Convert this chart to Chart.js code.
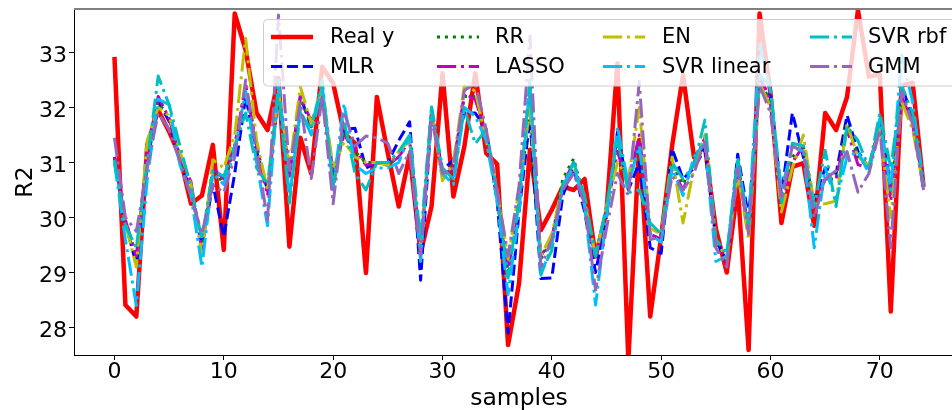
<!DOCTYPE html>
<html><head><meta charset="utf-8">
<script src="https://cdn.jsdelivr.net/npm/chart.js@4.4.0/dist/chart.umd.min.js"></script>
<style>html,body{margin:0;padding:0;background:#fff;overflow:hidden}canvas{display:block}</style>
</head><body>
<canvas id="c" width="952" height="410"></canvas>
<script>
const samples = [0,1,2,3,4,5,6,7,8,9,10,11,12,13,14,15,16,17,18,19,20,21,22,23,24,25,26,27,28,29,30,31,32,33,34,35,36,37,38,39,40,41,42,43,44,45,46,47,48,49,50,51,52,53,54,55,56,57,58,59,60,61,62,63,64,65,66,67,68,69,70,71,72,73,74];
const seriesNames = ['Real y','MLR','RR','LASSO','EN','SVR linear','SVR rbf','GMM'];
const xTicks = [0,10,20,30,40,50,60,70];
const yTicks = [28,29,30,31,32,33];
const xLabel = 'samples';
const yLabel = 'R2';

const realY = [32.92,28.41,28.20,31.32,31.95,31.56,31.10,30.25,30.40,31.32,
29.41,33.71,33.04,31.90,31.59,32.53,29.47,31.45,30.80,32.74,
32.44,31.53,31.35,28.99,32.19,31.17,30.20,31.15,29.35,30.20,
32.62,30.38,31.29,32.62,31.17,30.97,27.68,28.80,31.23,29.77,
30.14,30.56,30.50,30.70,29.29,30.10,32.80,27.40,31.41,28.20,
29.65,31.30,32.59,31.10,31.30,29.80,29.00,30.56,27.59,33.71,
32.26,29.90,30.92,30.99,29.85,31.90,31.59,32.19,33.77,32.56,
32.60,28.29,32.40,32.45,30.56];
const mlr = [31.1,29.9,29.15,31.0,32.1,31.75,31.0,30.5,29.5,30.6,
29.65,30.8,32.2,31.2,30.5,32.2,30.8,32.2,31.65,32.3,
30.7,31.6,31.62,30.9,31.0,31.0,31.4,31.74,28.86,31.9,
30.85,31.05,31.9,31.9,31.6,30.3,27.9,30.1,31.8,28.89,
28.9,30.4,30.9,30.1,29.0,30.0,31.55,30.5,31.0,29.45,
29.35,31.25,30.7,30.9,31.25,29.6,29.2,31.15,30.0,32.5,
32.2,30.4,31.9,31.1,30.33,30.9,30.8,31.86,31.2,30.9,
31.7,30.6,32.4,31.8,30.6];
const rr = [31.1,29.95,29.3,31.1,32.1,31.8,31.1,30.6,29.4,30.9,
30.6,31.3,32.4,31.3,30.5,32.3,30.8,32.15,31.7,32.25,
30.8,31.5,31.2,31.0,31.0,30.95,31.1,31.45,29.3,31.95,
30.7,30.95,32.2,32.2,31.5,30.4,29.0,30.3,32.0,29.25,
29.6,30.7,31.07,30.3,29.3,30.1,31.3,30.6,31.3,29.7,
29.6,31.0,30.6,31.0,31.4,29.5,29.2,31.0,29.8,32.5,
32.1,30.2,31.1,31.3,30.2,30.7,30.7,31.7,31.1,30.9,
31.7,30.4,32.2,31.7,30.6];
const lasso = [31.1,29.95,29.3,31.2,32.2,31.8,31.1,30.65,29.4,30.9,
30.7,31.3,32.4,31.3,30.4,32.3,30.75,32.2,31.75,32.2,
30.8,31.5,31.25,30.95,31.0,30.95,31.1,31.4,29.35,31.95,
30.75,30.9,32.25,32.15,31.5,30.4,29.0,30.3,32.2,29.3,
29.6,30.6,31.0,30.3,29.25,30.1,31.2,30.6,31.5,29.7,
29.6,30.9,30.5,31.0,31.45,29.5,29.2,30.9,29.75,32.6,
32.1,30.15,31.0,31.3,30.2,30.7,30.7,31.6,30.96,30.9,
31.7,30.3,32.2,31.7,30.6];
const en = [31.0,29.9,29.1,31.4,32.0,31.85,31.2,30.6,29.3,31.05,
30.9,31.5,33.26,31.4,30.5,32.3,30.9,32.38,31.7,32.35,
30.9,31.37,31.1,31.0,31.0,30.95,31.2,31.4,29.5,31.95,
30.67,31.0,32.4,32.3,31.4,30.5,29.25,30.5,32.0,29.3,
29.7,30.6,30.9,30.3,29.3,30.2,31.0,30.7,32.0,29.8,
29.7,31.1,29.9,30.9,31.5,29.6,29.25,30.8,29.6,32.45,
32.0,30.1,30.9,31.5,30.25,30.25,30.3,31.7,31.1,30.95,
31.6,30.0,32.1,31.6,30.55];
const svrLinear = [31.0,29.6,28.4,30.7,32.15,32.05,30.95,30.4,29.1,30.8,
30.6,31.2,32.3,31.0,29.85,32.5,30.35,31.95,31.5,32.4,
30.55,32.07,30.95,30.8,30.9,30.9,31.0,31.5,29.2,32.0,
30.8,30.6,32.0,31.84,31.4,30.3,28.6,30.1,32.45,28.95,
29.5,30.55,30.95,30.2,28.41,30.0,31.65,30.6,31.3,29.7,
29.55,30.9,30.4,31.1,31.35,29.2,29.3,31.0,29.9,33.17,
32.3,30.5,31.3,31.2,29.45,30.9,30.3,31.1,31.2,30.8,
31.8,30.5,32.95,32.1,30.6];
const svrRbf = [31.05,29.85,29.45,31.0,32.57,32.05,31.3,30.55,29.6,30.85,
30.75,31.3,31.9,30.9,30.6,32.3,30.26,31.9,31.6,32.5,
30.5,31.75,30.8,30.5,31.0,31.0,31.2,31.5,29.6,32.01,
30.9,30.7,31.98,31.34,31.6,30.45,28.9,30.3,32.5,29.0,
29.4,30.6,31.0,30.4,29.3,30.2,31.43,30.45,30.5,29.9,
29.7,31.0,30.7,30.95,31.77,29.6,29.35,31.1,29.77,32.57,
32.4,30.27,31.35,31.3,30.2,31.22,30.2,31.66,31.4,30.9,
31.9,30.9,32.4,31.9,30.55];
const gmm = [31.45,30.0,29.75,30.9,31.9,31.6,31.0,30.4,29.7,30.6,
30.45,31.1,32.5,31.2,29.95,33.68,30.85,32.1,30.71,32.2,
30.25,31.92,31.3,31.48,31.45,31.35,30.8,31.2,29.3,31.8,
30.8,30.9,32.31,32.44,31.6,30.5,29.3,30.57,33.3,29.1,
29.6,30.5,30.8,30.25,28.68,29.8,30.8,30.4,32.47,29.6,
29.65,30.75,30.5,30.8,31.4,29.45,29.1,30.9,29.7,32.4,
31.9,30.33,31.3,31.2,30.0,30.7,30.85,31.2,30.46,30.8,
31.6,29.45,32.3,31.7,30.5];

const seriesValues = [realY, mlr, rr, lasso, en, svrLinear, svrRbf, gmm];
const styles = [
  {color:'#ff0000', width:4.5, dash:[]},
  {color:'#0000ff', width:3, dash:[11.1,4.8]},
  {color:'#008000', width:3, dash:[3,4.95]},
  {color:'#bf00bf', width:3, dash:[19.2,4.8,3,4.8]},
  {color:'#bfbf00', width:3, dash:[19.2,4.8,3,4.8]},
  {color:'#00bfff', width:3, dash:[19.2,4.8,3,4.8]},
  {color:'#00bfbf', width:3, dash:[19.2,4.8,3,4.8]},
  {color:'#9467bd', width:3, dash:[19.2,4.8,3,4.8]}
];

const FONT = '"DejaVu Sans", sans-serif';
Chart.defaults.font.family = FONT;

const datasets = seriesNames.map((name, i) => ({
  label: name,
  data: samples.map((s, j) => ({x: s, y: seriesValues[i][j]})),
  borderColor: styles[i].color,
  borderWidth: styles[i].width,
  borderDash: styles[i].dash,
  borderJoinStyle: 'round',
  borderCapStyle: 'butt',
  fill: false,
  pointRadius: 0,
  tension: 0,
  order: seriesNames.length - 1 - i
}));

const overlay = {
  id: 'overlay',
  afterDraw(chart) {
    const ctx = chart.ctx;
    const yScale = chart.scales.y;
    ctx.save();
    // y tick labels (matplotlib-like vertical centring)
    ctx.fillStyle = '#000';
    ctx.font = '22px ' + FONT;
    ctx.textAlign = 'right';
    ctx.textBaseline = 'alphabetic';
    yTicks.forEach(v => {
      ctx.fillText(String(v), 67, yScale.getPixelForValue(v) + 10);
    });
    ctx.restore();
  },
  afterDatasetsDraw(chart) {
    const ctx = chart.ctx;
    ctx.save();
    // top spine
    ctx.fillStyle = '#808080';
    ctx.fillRect(74, 8, 878, 2);
    // legend box
    const bx = 263.5, by = 19.5, bw = 700, bh = 66.5, r = 4;
    ctx.beginPath();
    ctx.moveTo(bx + r, by);
    ctx.lineTo(bx + bw - r, by);
    ctx.quadraticCurveTo(bx + bw, by, bx + bw, by + r);
    ctx.lineTo(bx + bw, by + bh - r);
    ctx.quadraticCurveTo(bx + bw, by + bh, bx + bw - r, by + bh);
    ctx.lineTo(bx + r, by + bh);
    ctx.quadraticCurveTo(bx, by + bh, bx, by + bh - r);
    ctx.lineTo(bx, by + r);
    ctx.quadraticCurveTo(bx, by, bx + r, by);
    ctx.closePath();
    ctx.fillStyle = 'rgba(255,255,255,0.8)';
    ctx.fill();
    ctx.strokeStyle = '#cccccc';
    ctx.lineWidth = 1;
    ctx.stroke();
    const handleX = [271, 437, 603, 810];
    const textX = [330, 495, 662, 868];
    const rowY = [37, 66.5];
    ctx.font = '21px ' + FONT;
    ctx.textBaseline = 'middle';
    ctx.textAlign = 'left';
    seriesNames.forEach((name, i) => {
      const col = Math.floor(i / 2), row = i % 2;
      const y = rowY[row];
      ctx.beginPath();
      ctx.setLineDash(styles[i].dash);
      ctx.lineDashOffset = 0;
      ctx.lineCap = 'butt';
      ctx.strokeStyle = styles[i].color;
      ctx.lineWidth = styles[i].width;
      ctx.moveTo(handleX[col], y);
      ctx.lineTo(handleX[col] + 42, y);
      ctx.stroke();
      ctx.setLineDash([]);
      ctx.fillStyle = '#000';
      ctx.fillText(name, textX[col], y + 1);
    });
    // axis titles
    ctx.fillStyle = '#000';
    ctx.font = '23.5px ' + FONT;
    ctx.textAlign = 'center';
    ctx.textBaseline = 'alphabetic';
    ctx.fillText(xLabel, 519, 405);
    ctx.translate(31.5, 182);
    ctx.rotate(-Math.PI / 2);
    ctx.fillText(yLabel, 0, 0);
    ctx.restore();
  }
};

new Chart(document.getElementById('c'), {
  type: 'line',
  data: { datasets },
  plugins: [overlay],
  options: {
    responsive: false,
    animation: false,
    devicePixelRatio: 1,
    layout: { padding: { top: 9, left: 0, right: 0, bottom: 0 } },
    plugins: { legend: { display: false }, tooltip: { enabled: false } },
    elements: { point: { radius: 0 }, line: { tension: 0 } },
    scales: {
      x: {
        type: 'linear',
        min: -3.7, max: 76.6,
        afterFit: s => { s.height = 55; s.paddingLeft = 0; s.paddingRight = 0; },
        afterBuildTicks: s => { s.ticks = xTicks.map(v => ({ value: v })); },
        ticks: { font: { size: 22, lineHeight: 1 }, color: '#000', padding: 1, maxRotation: 0, autoSkip: false },
        grid: { drawOnChartArea: false, drawTicks: true, tickLength: 5, tickColor: '#000', tickWidth: 1 },
        border: { display: true, color: '#000', width: 1 }
      },
      y: {
        type: 'linear',
        min: 27.5, max: 33.79,
        afterFit: s => { s.width = 74; s.paddingTop = 0; s.paddingBottom = 0; },
        afterBuildTicks: s => { s.ticks = yTicks.map(v => ({ value: v })); },
        ticks: { display: false },
        grid: { drawOnChartArea: false, drawTicks: true, tickLength: 5, tickColor: '#000', tickWidth: 1 },
        border: { display: true, color: '#000', width: 1 }
      }
    }
  }
});
</script>
</body></html>
